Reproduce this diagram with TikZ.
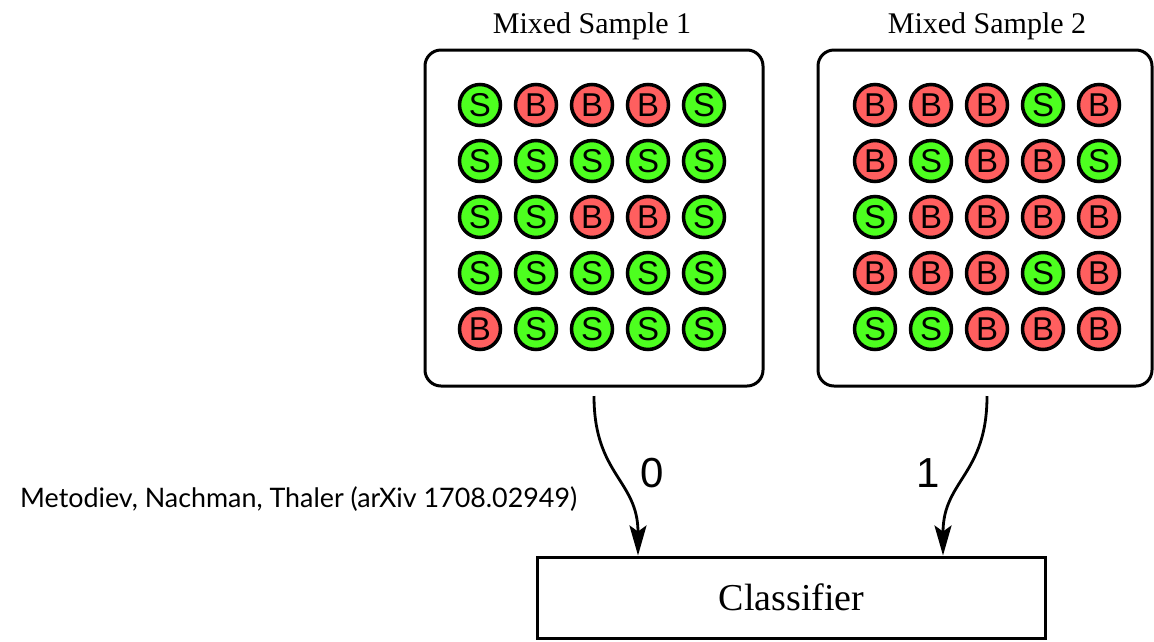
\documentclass[tikz,border=0pt]{standalone}
\usepackage{fontspec}
\setmainfont{Liberation Serif}
\newfontfamily\ballfont{Liberation Sans}
\newfontfamily\notefont{Lato}
\usetikzlibrary{arrows.meta}
\definecolor{sigcol}{HTML}{4DFF1F}
\definecolor{bkgcol}{HTML}{FF5F5F}
\newcommand\balltext[1]{{\ballfont\fontsize{33pt}{35pt}\selectfont #1}}
\newcommand\flowtext[1]{{\ballfont\fontsize{42pt}{44pt}\selectfont #1}}
\tikzset{
  ball/.style={circle, draw=black, line width=3.5pt, minimum size=41pt, inner sep=0pt},
  ballS/.style={ball, fill=sigcol},
  ballB/.style={ball, fill=bkgcol},
  samplebox/.style={draw=black, line width=3pt, rounded corners=16pt, fill=white},
  title/.style={font=\fontsize{30pt}{32pt}\selectfont, anchor=base},
  flow/.style={line width=2.8pt, -{Stealth[length=30pt, width=17pt, inset=6pt]}},
  flowlabel/.style={inner sep=0pt}
}
\begin{document}
\begin{tikzpicture}[x=1pt, y=-1pt]
\useasboundingbox (0,0) rectangle (1154,641);

% sample containers
\draw[samplebox] (425,50) rectangle (763,386);
\node[inner sep=0pt] (boxA) at (594,218) {};
\draw[samplebox] (818,50) rectangle (1152,386);
\node[inner sep=0pt] (boxB) at (985,218) {};

\node[title] (titleA) at (592,33) {Mixed Sample 1};
\node[title] (titleB) at (987,33) {Mixed Sample 2};

% events in each sample: S = signal, B = background
\foreach \row [count=\r from 0] in {{S,B,B,B,S},{S,S,S,S,S},{S,S,B,B,S},{S,S,S,S,S},{B,S,S,S,S}}{
  \foreach \ev [count=\c from 0] in \row {
    \node[ball\ev] (a-\r-\c) at (480+56*\c, 105+56*\r) {\balltext{\ev}};
  }
}
\foreach \row [count=\r from 0] in {{B,B,B,S,B},{B,S,B,B,S},{S,B,B,B,B},{B,B,B,S,B},{S,S,B,B,B}}{
  \foreach \ev [count=\c from 0] in \row {
    \node[ball\ev] (b-\r-\c) at (875+56*\c, 105+56*\r) {\balltext{\ev}};
  }
}

% classifier
\node[draw=black, line width=3pt, minimum width=508pt, minimum height=81pt,
      font=\fontsize{38pt}{40pt}\selectfont, inner sep=0pt] (clf) at (791.5,597.5) {Classifier};

% labelled flows into the classifier
\coordinate (outA) at (594,396);
\coordinate (outB) at (987,396);
\draw[flow] (outA) .. controls (594,475) and (638,480) .. (clf.north -| 638,0);
\draw[flow] (outB) .. controls (987,475) and (943,480) .. (clf.north -| 943,0);
\node[flowlabel] (lab0) at (652,473) {\flowtext{0}};
\node[flowlabel] (lab1) at (928,473) {\flowtext{1}};

% reference note
\node[anchor=west, inner sep=0pt] (note) at (20,499)
  {\resizebox{557pt}{!}{\notefont\fontsize{24pt}{26pt}\selectfont Metodiev, Nachman, Thaler (arXiv 1708.02949)}};
\end{tikzpicture}
\end{document}
